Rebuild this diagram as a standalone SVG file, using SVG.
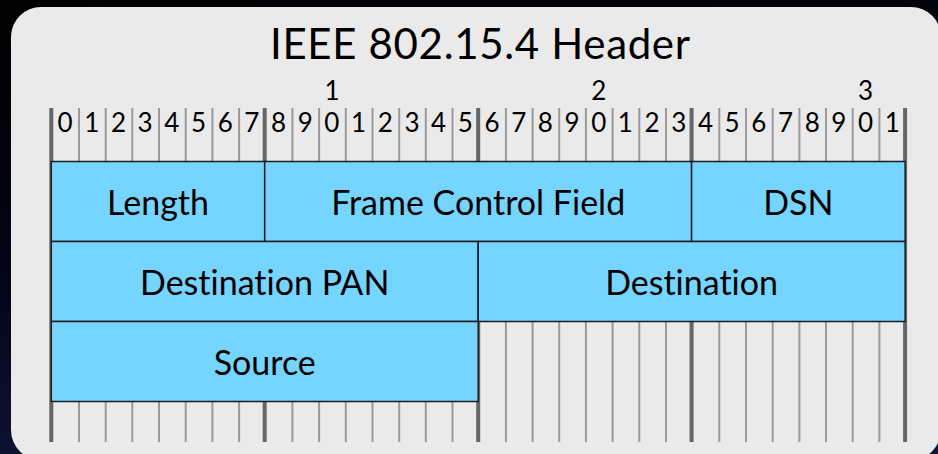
<svg xmlns="http://www.w3.org/2000/svg" width="938" height="454" viewBox="0 0 938 454">
  <defs>
    <linearGradient id="bg" x1="0" y1="0" x2="0.3" y2="1">
      <stop offset="0" stop-color="#000000"/>
      <stop offset="0.6" stop-color="#04061a"/>
      <stop offset="1" stop-color="#101536"/>
    </linearGradient>
    <style>
      text { font-family: Lato, "Open Sans", "Liberation Sans", sans-serif; fill: #000; text-anchor: middle; font-variant-ligatures: none; font-feature-settings: "liga" 0, "dlig" 0; }
      .title { font-size: 42px; }
      .digit { font-size: 26px; }
      .label { font-size: 34px; }
      .tick { stroke: #999999; stroke-width: 2; }
      .tick-major { stroke: #666666; stroke-width: 4; }
      .field { fill: #75D5FF; stroke: #1c1c1c; stroke-width: 1.5; }
    </style>
  </defs>

  <!-- backdrop and panel -->
  <rect x="0" y="0" width="938" height="454" fill="url(#bg)"/>
  <rect x="11" y="7" width="930" height="453" rx="30" ry="30" fill="#EAEAEA"/>

  <text class="title" x="480" y="59" textLength="420" lengthAdjust="spacing">IEEE 802.15.4 Header</text>

  <!-- bit ruler: x = 51.3 + bit * 26.68 -->
  <g id="ruler">
    <g id="ticks">
      <line class="tick-major" x1="51.3" y1="108" x2="51.3" y2="442"/>
      <line class="tick" x1="79.0" y1="108" x2="79.0" y2="442"/>
      <line class="tick" x1="105.7" y1="108" x2="105.7" y2="442"/>
      <line class="tick" x1="132.3" y1="108" x2="132.3" y2="442"/>
      <line class="tick" x1="159.0" y1="108" x2="159.0" y2="442"/>
      <line class="tick" x1="185.7" y1="108" x2="185.7" y2="442"/>
      <line class="tick" x1="212.4" y1="108" x2="212.4" y2="442"/>
      <line class="tick" x1="239.1" y1="108" x2="239.1" y2="442"/>
      <line class="tick-major" x1="264.7" y1="108" x2="264.7" y2="442"/>
      <line class="tick" x1="292.4" y1="108" x2="292.4" y2="442"/>
      <line class="tick" x1="319.1" y1="108" x2="319.1" y2="442"/>
      <line class="tick" x1="345.8" y1="108" x2="345.8" y2="442"/>
      <line class="tick" x1="372.5" y1="108" x2="372.5" y2="442"/>
      <line class="tick" x1="399.2" y1="108" x2="399.2" y2="442"/>
      <line class="tick" x1="425.8" y1="108" x2="425.8" y2="442"/>
      <line class="tick" x1="452.5" y1="108" x2="452.5" y2="442"/>
      <line class="tick-major" x1="478.2" y1="108" x2="478.2" y2="442"/>
      <line class="tick" x1="505.9" y1="108" x2="505.9" y2="442"/>
      <line class="tick" x1="532.6" y1="108" x2="532.6" y2="442"/>
      <line class="tick" x1="559.2" y1="108" x2="559.2" y2="442"/>
      <line class="tick" x1="585.9" y1="108" x2="585.9" y2="442"/>
      <line class="tick" x1="612.6" y1="108" x2="612.6" y2="442"/>
      <line class="tick" x1="639.3" y1="108" x2="639.3" y2="442"/>
      <line class="tick" x1="666.0" y1="108" x2="666.0" y2="442"/>
      <line class="tick-major" x1="691.6" y1="108" x2="691.6" y2="442"/>
      <line class="tick" x1="719.3" y1="108" x2="719.3" y2="442"/>
      <line class="tick" x1="746.0" y1="108" x2="746.0" y2="442"/>
      <line class="tick" x1="772.7" y1="108" x2="772.7" y2="442"/>
      <line class="tick" x1="799.4" y1="108" x2="799.4" y2="442"/>
      <line class="tick" x1="826.0" y1="108" x2="826.0" y2="442"/>
      <line class="tick" x1="852.7" y1="108" x2="852.7" y2="442"/>
      <line class="tick" x1="879.4" y1="108" x2="879.4" y2="442"/>
      <line class="tick-major" x1="905.1" y1="108" x2="905.1" y2="442"/>
    </g>
    <g id="tens">
      <text class="digit" x="332" y="100">1</text>
      <text class="digit" x="598.7" y="100">2</text>
      <text class="digit" x="865.5" y="100">3</text>
    </g>
    <g id="units">
      <text class="digit" x="65.1" y="132">0</text>
      <text class="digit" x="91.8" y="132">1</text>
      <text class="digit" x="118.5" y="132">2</text>
      <text class="digit" x="145.1" y="132">3</text>
      <text class="digit" x="171.8" y="132">4</text>
      <text class="digit" x="198.5" y="132">5</text>
      <text class="digit" x="225.2" y="132">6</text>
      <text class="digit" x="251.9" y="132">7</text>
      <text class="digit" x="278.6" y="132">8</text>
      <text class="digit" x="305.2" y="132">9</text>
      <text class="digit" x="331.9" y="132">0</text>
      <text class="digit" x="358.6" y="132">1</text>
      <text class="digit" x="385.3" y="132">2</text>
      <text class="digit" x="412.0" y="132">3</text>
      <text class="digit" x="438.6" y="132">4</text>
      <text class="digit" x="465.3" y="132">5</text>
      <text class="digit" x="492.0" y="132">6</text>
      <text class="digit" x="518.7" y="132">7</text>
      <text class="digit" x="545.4" y="132">8</text>
      <text class="digit" x="572.0" y="132">9</text>
      <text class="digit" x="598.7" y="132">0</text>
      <text class="digit" x="625.4" y="132">1</text>
      <text class="digit" x="652.1" y="132">2</text>
      <text class="digit" x="678.8" y="132">3</text>
      <text class="digit" x="705.5" y="132">4</text>
      <text class="digit" x="732.1" y="132">5</text>
      <text class="digit" x="758.8" y="132">6</text>
      <text class="digit" x="785.5" y="132">7</text>
      <text class="digit" x="812.2" y="132">8</text>
      <text class="digit" x="838.9" y="132">9</text>
      <text class="digit" x="865.5" y="132">0</text>
      <text class="digit" x="892.2" y="132">1</text>
    </g>
  </g>

  <!-- header fields -->
  <g id="length">
    <rect class="field" x="51.3" y="161.5" width="213.4" height="80"/>
    <text class="label" x="158" y="215">Length</text>
  </g>
  <g id="frame-control-field">
    <rect class="field" x="264.7" y="161.5" width="426.9" height="80"/>
    <text class="label" x="478.2" y="215">Frame Control Field</text>
  </g>
  <g id="dsn">
    <rect class="field" x="691.6" y="161.5" width="213.5" height="80"/>
    <text class="label" x="798.4" y="215">DSN</text>
  </g>
  <g id="destination-pan">
    <rect class="field" x="51.3" y="241.5" width="426.9" height="80"/>
    <text class="label" x="264.7" y="295">Destination PAN</text>
  </g>
  <g id="destination">
    <rect class="field" x="478.2" y="241.5" width="426.9" height="80"/>
    <text class="label" x="691.6" y="295">Destination</text>
  </g>
  <g id="source">
    <rect class="field" x="51.3" y="321.5" width="426.9" height="80"/>
    <text class="label" x="264.7" y="375">Source</text>
  </g>

  <g id="connectors"/>
</svg>
